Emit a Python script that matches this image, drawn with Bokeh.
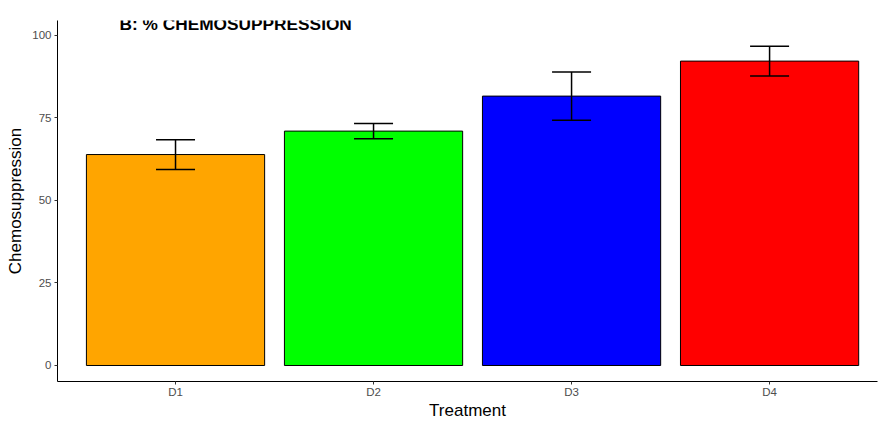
from bokeh.plotting import figure
from bokeh.models import ColumnDataSource, Range1d, FixedTicker, Whisker, TeeHead, Label
from bokeh.embed import file_html
from bokeh.resources import INLINE

treatments = ["D1", "D2", "D3", "D4"]
means = [63.9, 71.0, 81.6, 92.2]
errors = [4.5, 2.3, 7.3, 4.5]
colors = ["#FFA500", "#00FF00", "#0000FF", "#FF0000"]
y_ticks = [0, 25, 50, 75, 100]

xpos = [i + 1 for i in range(len(treatments))]
src = ColumnDataSource(dict(
    x=xpos, top=means, color=colors,
    upper=[m + e for m, e in zip(means, errors)],
    lower=[m - e for m, e in zip(means, errors)],
))

p = figure(width=890, height=422, output_backend="svg", toolbar_location=None,
           x_range=Range1d(0.404, 4.545), y_range=Range1d(-4.85, 104.5),
           min_border_left=57, min_border_right=13, min_border_top=20, min_border_bottom=39)
p.xgrid.visible = False
p.ygrid.visible = False
p.outline_line_color = None
p.background_fill_color = "white"
p.border_fill_color = "white"

p.vbar(x="x", top="top", bottom=0, width=0.9, fill_color="color", line_color="black",
       line_width=1, source=src)

w = Whisker(base="x", upper="upper", lower="lower", source=src, line_color="black",
            line_width=1.5, level="overlay",
            upper_head=TeeHead(size=39, line_color="black", line_width=1.5),
            lower_head=TeeHead(size=39, line_color="black", line_width=1.5))
p.add_layout(w)

for ax in (p.xaxis[0], p.yaxis[0]):
    ax.axis_line_color = "black"
    ax.axis_line_width = 1
    ax.major_tick_line_color = "#333333"
    ax.major_tick_in = 0
    ax.major_tick_out = 3
    ax.minor_tick_line_color = None
    ax.major_label_text_color = "#4D4D4D"
    ax.major_label_text_font = "Liberation Sans"
    ax.major_label_text_font_size = "11.5px"
    ax.axis_label_text_font = "Liberation Sans"
    ax.axis_label_text_font_size = "17px"
    ax.axis_label_text_font_style = "normal"
    ax.axis_label_text_color = "black"

p.xaxis.ticker = FixedTicker(ticks=xpos)
p.xaxis.major_label_overrides = {x: t for x, t in zip(xpos, treatments)}
p.yaxis.ticker = FixedTicker(ticks=y_ticks)
p.xaxis.axis_label = "Treatment"
p.yaxis.axis_label = "Chemosuppression"
p.xaxis.axis_label_standoff = 0
p.yaxis.axis_label_standoff = 4
p.xaxis.major_label_standoff = 1
p.yaxis.major_label_standoff = 3

p.add_layout(Label(x=0.717, y=103.3, text="B: % CHEMOSUPPRESSION", text_font="Liberation Sans",
                   text_font_style="bold", text_font_size="17.3px", text_color="black",
                   text_baseline="middle", text_align="left", level="overlay"))

open("out.html", "w").write(file_html(p, INLINE))
